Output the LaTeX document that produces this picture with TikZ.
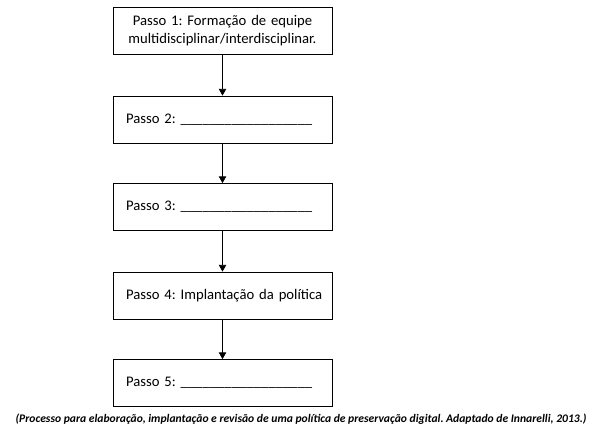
\documentclass[tikz,border=0pt]{standalone}
\usepackage{fontspec}
\setmainfont{Carlito}
\frenchspacing
\usetikzlibrary{arrows.meta}
\tikzset{
passo/.style={draw, line width=0.6pt, minimum width=164.25pt, minimum height=35.25pt,
  inner xsep=9.75pt, text width=144.75pt, align=left,
  font=\fontsize{11}{13.5}\selectfont},
passo1/.style={passo, align=center},
seta/.style={line width=0.6pt, -{Triangle[length=5pt,width=5.5pt]}}
}

\begin{document}
\begin{tikzpicture}[x=0.75pt, y=-0.75pt]
\useasboundingbox (0,0) rectangle (595,429);
\node[passo1] (p1) at (222.5,30.5) {Passo 1: Formação de equipe\\multidisciplinar/interdisciplinar.};
\node[passo] (p2) at (222.5,119.5) {\mbox{Passo 2: \_\_\_\_\_\_\_\_\_\_\_\_\_\_\_\_\_\_}};
\node[passo] (p3) at (222.5,207) {\mbox{Passo 3: \_\_\_\_\_\_\_\_\_\_\_\_\_\_\_\_\_\_}};
\node[passo] (p4) at (222.5,295.5) {\mbox{Passo 4: Implantação da política}};
\node[passo] (p5) at (222.5,383) {\mbox{Passo 5: \_\_\_\_\_\_\_\_\_\_\_\_\_\_\_\_\_\_}};
\draw[seta] (p1) -- (p2);
\draw[seta] (p2) -- (p3);
\draw[seta] (p3) -- (p4);
\draw[seta] (p4) -- (p5);
\node[font=\fontsize{8.7}{10}\selectfont\bfseries\itshape] (legenda) at (301,419)
  {(Processo para elaboração, implantação e revisão de uma política de preservação digital. Adaptado de Innarelli, 2013.)};
\end{tikzpicture}
\end{document}
